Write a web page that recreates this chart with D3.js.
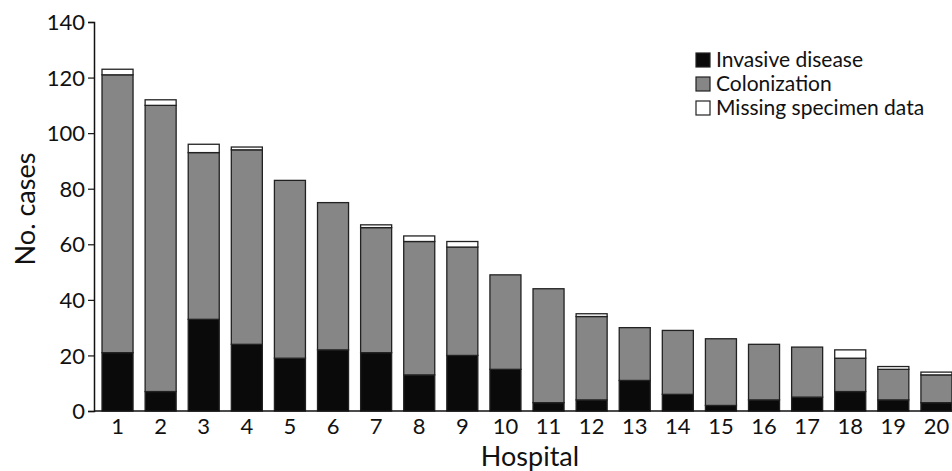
<!DOCTYPE html>
<html>
<head>
<meta charset="utf-8">
<script src="https://cdn.jsdelivr.net/npm/d3@7"></script>
<style>
html,body{margin:0;padding:0;background:#fff;}
svg{display:block;}
text{font-family:Lato,"Open Sans",sans-serif;fill:#111;}
</style>
</head>
<body>
<svg id="chart" width="952" height="471"></svg>
<script>
const hospitals = ["1","2","3","4","5","6","7","8","9","10","11","12","13","14","15","16","17","18","19","20"];
const invasive     = [21, 7, 33, 24, 19, 22, 21, 13, 20, 15, 3, 4, 11, 6, 2, 4, 5, 7, 4, 3];
const colonization = [100, 103, 60, 70, 64, 53, 45, 48, 39, 34, 41, 30, 19, 23, 24, 20, 18, 12, 11, 10];
const missing      = [2, 2, 3, 1, 0, 0, 1, 2, 2, 0, 0, 1, 0, 0, 0, 0, 0, 3, 1, 1];
const seriesNames = ["Invasive disease", "Colonization", "Missing specimen data"];
const seriesFill = ["#0a0a0a", "#868686", "#ffffff"];
const yTicks = [0, 20, 40, 60, 80, 100, 120, 140];

(function () {
const svg = d3.select("#chart");
const mLeft = 94, mTop = 22, mBottom = 411;

const step = 43.1, pInner = 0.28, pOuter = 0.186;
const x = d3.scaleBand()
  .domain(hospitals)
  .range([mLeft, mLeft + step * (hospitals.length - pInner + 2 * pOuter)])
  .paddingInner(pInner).paddingOuter(pOuter);
const y = d3.scaleLinear().domain([0, 140]).range([mBottom, mTop]);

const rows = hospitals.map((h, i) => ({
  hospital: h, "Invasive disease": invasive[i], "Colonization": colonization[i], "Missing specimen data": missing[i]
}));
const stack = d3.stack().keys(seriesNames)(rows);

const g = svg.append("g");
stack.forEach((layer, li) => {
  g.append("g").selectAll("rect").data(layer.filter(d => d[1] > d[0])).join("rect")
    .attr("x", d => x(d.data.hospital))
    .attr("y", d => y(d[1]))
    .attr("width", x.bandwidth())
    .attr("height", d => y(d[0]) - y(d[1]))
    .attr("fill", seriesFill[li])
    .attr("stroke", "#222")
    .attr("stroke-width", 1.3);
});

// y axis
const yAxis = d3.axisLeft(y).tickValues(yTicks).tickSize(6).tickPadding(3);
const ya = svg.append("g").attr("transform", `translate(${mLeft},0)`).call(yAxis);
ya.select(".domain").attr("stroke", "#111").attr("stroke-width", 1.5);
ya.selectAll(".tick line").attr("stroke", "#111").attr("stroke-width", 1.2);
ya.selectAll(".tick text").style("font-size", "22px").attr("fill", "#111").attr("dy", "0.35em");

// x axis
const xAxis = d3.axisBottom(x).tickSize(0).tickPadding(7);
const xa = svg.append("g").attr("transform", `translate(0,${mBottom})`).call(xAxis);
xa.select(".domain").attr("stroke", "#111").attr("stroke-width", 1.5)
  .attr("d", `M${mLeft},0H952`);
xa.selectAll(".tick text").style("font-size", "22px").attr("fill", "#111");

// axis titles
svg.append("text").attr("x", 530).attr("y", 466).attr("text-anchor", "middle")
  .style("font-size", "27px").text("Hospital");
svg.append("text").attr("transform", "translate(35,209) rotate(-90)").attr("text-anchor", "middle")
  .style("font-size", "27px").text("No. cases");

// legend
const lg = svg.append("g").attr("transform", "translate(696,53)");
seriesNames.forEach((name, i) => {
  const row = lg.append("g").attr("transform", `translate(0,${i * 24})`);
  row.append("rect").attr("x", 0).attr("y", 0).attr("width", 14).attr("height", 14)
    .attr("fill", seriesFill[i]).attr("stroke", "#222").attr("stroke-width", 1.2);
  row.append("text").attr("x", 20).attr("y", 14).style("font-size", "21px").text(name);
});
})();
</script>
</body>
</html>
